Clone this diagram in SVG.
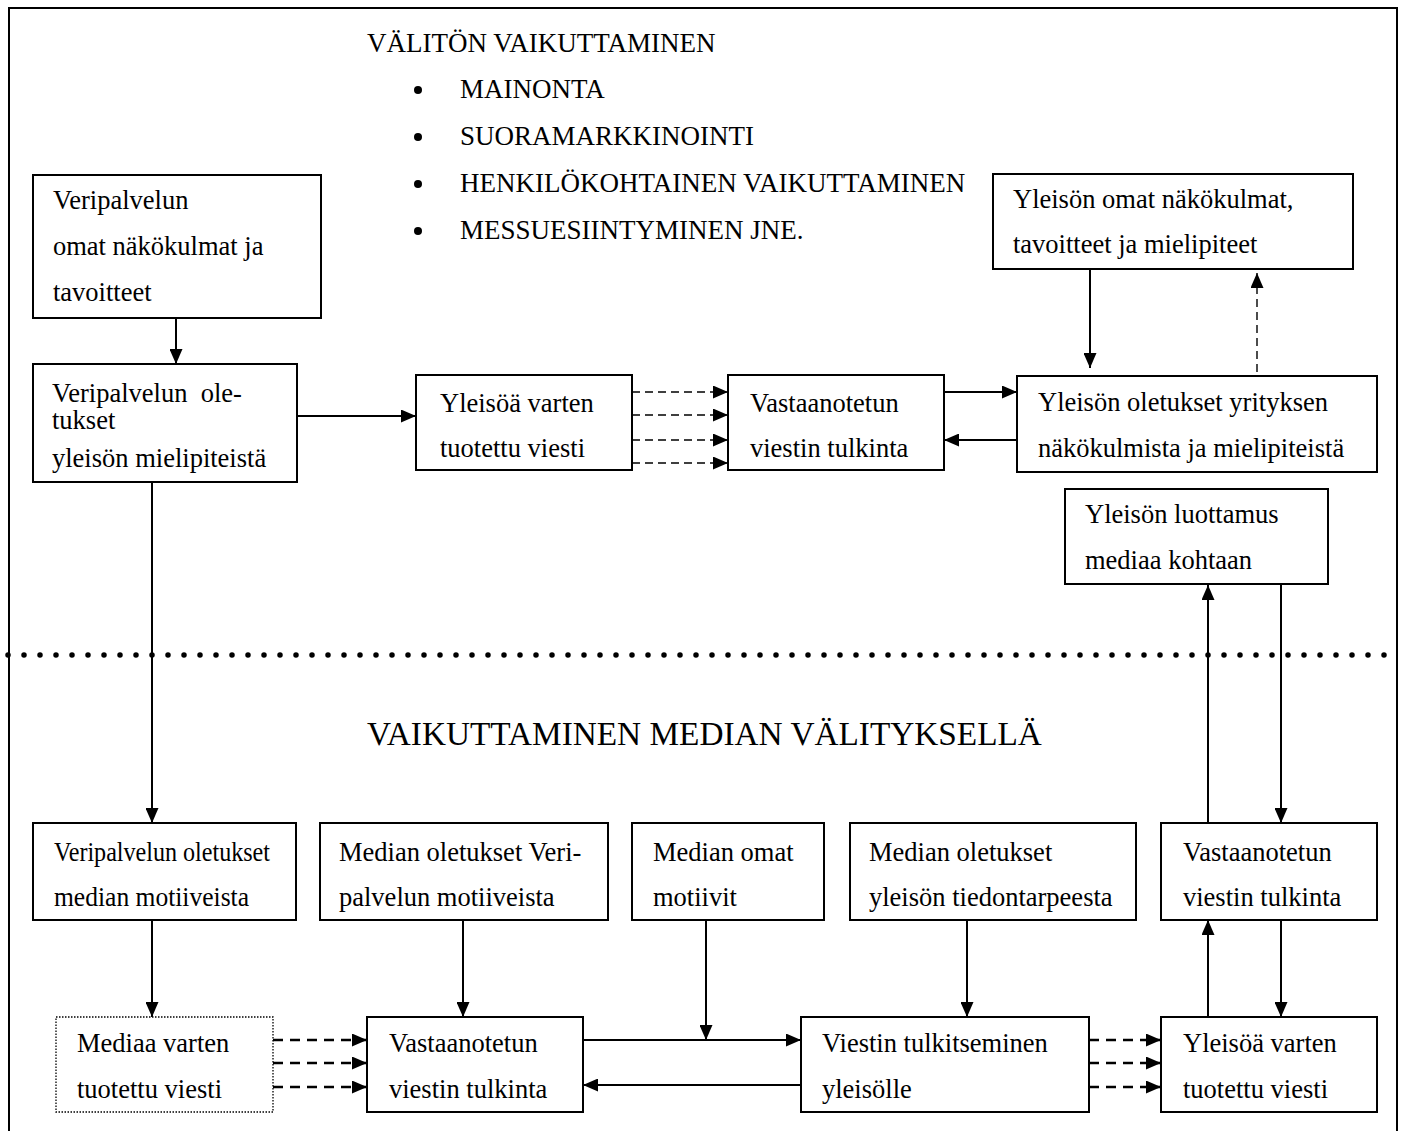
<svg xmlns="http://www.w3.org/2000/svg" width="1405" height="1131" viewBox="0 0 1405 1131">
<style>
  .t { font-family: "Liberation Serif", "Times New Roman", serif; font-size: 26.5px; fill: #000; }
  .th { font-family: "Liberation Serif", "Times New Roman", serif; font-size: 27px; fill: #000; }
  .tb { font-family: "Liberation Serif", "Times New Roman", serif; font-size: 33.3px; fill: #000; }
  .box { fill: #fff; stroke: #000; stroke-width: 2; }
  .dbox { fill: #fff; stroke: #000; stroke-width: 1.3; stroke-dasharray: 1.5 1.5; }
  .ln { fill: none; stroke: #000; stroke-width: 2; }
  .dl { fill: none; stroke: #000; stroke-width: 1.4; stroke-dasharray: 8 5; }
  .dl2 { fill: none; stroke: #000; stroke-width: 2.6; stroke-dasharray: 10 7; }
</style>
<defs>
  <marker id="ah" markerWidth="15" markerHeight="13" refX="15" refY="6.5" orient="auto" markerUnits="userSpaceOnUse">
    <path d="M0,0 L15,6.5 L0,13 Z" fill="#000"/>
  </marker>
</defs>
<rect width="1405" height="1131" fill="#fff"/>
<!-- outer frame -->
<path d="M9,1131 L9,8 L1397,8 L1397,1131" class="ln"/>

<!-- header texts -->
<g id="header">
  <text class="th" x="367" y="52">VÄLITÖN VAIKUTTAMINEN</text>
  <circle cx="418" cy="90" r="4"/>
  <text class="th" x="460" y="98">MAINONTA</text>
  <circle cx="418" cy="137" r="4"/>
  <text class="th" x="460" y="145">SUORAMARKKINOINTI</text>
  <circle cx="418" cy="184" r="4"/>
  <text class="th" x="460" y="192">HENKILÖKOHTAINEN VAIKUTTAMINEN</text>
  <circle cx="418" cy="231" r="4"/>
  <text class="th" x="460" y="239">MESSUESIINTYMINEN JNE.</text>
</g>

<!-- separator -->
<line x1="8" y1="655" x2="1392" y2="655" stroke="#000" stroke-width="5.5" stroke-linecap="round" stroke-dasharray="0 16"/>
<text id="title2" class="tb" x="367" y="745">VAIKUTTAMINEN MEDIAN VÄLITYKSELLÄ</text>

<!-- connectors -->
<g id="connectors">
  <line class="ln" x1="176" y1="318" x2="176" y2="364" marker-end="url(#ah)"/>
  <line class="ln" x1="297" y1="416" x2="416" y2="416" marker-end="url(#ah)"/>
  <line class="dl" x1="632" y1="392" x2="728" y2="392" marker-end="url(#ah)"/>
  <line class="dl" x1="632" y1="415" x2="728" y2="415" marker-end="url(#ah)"/>
  <line class="dl" x1="632" y1="440" x2="728" y2="440" marker-end="url(#ah)"/>
  <line class="dl" x1="632" y1="463" x2="728" y2="463" marker-end="url(#ah)"/>
  <line class="ln" x1="944" y1="392" x2="1017" y2="392" marker-end="url(#ah)"/>
  <line class="ln" x1="1017" y1="440" x2="944" y2="440" marker-end="url(#ah)"/>
  <line class="ln" x1="1090" y1="269" x2="1090" y2="368" marker-end="url(#ah)"/>
  <line class="dl" x1="1257" y1="372" x2="1257" y2="273" marker-end="url(#ah)"/>
  <line class="ln" x1="1208" y1="823" x2="1208" y2="585" marker-end="url(#ah)"/>
  <line class="ln" x1="1281" y1="584" x2="1281" y2="823" marker-end="url(#ah)"/>
  <line class="ln" x1="152" y1="482" x2="152" y2="823" marker-end="url(#ah)"/>
  <line class="ln" x1="152" y1="920" x2="152" y2="1017" marker-end="url(#ah)"/>
  <line class="ln" x1="463" y1="920" x2="463" y2="1017" marker-end="url(#ah)"/>
  <line class="ln" x1="706" y1="920" x2="706" y2="1040" marker-end="url(#ah)"/>
  <line class="ln" x1="967" y1="920" x2="967" y2="1017" marker-end="url(#ah)"/>
  <line class="ln" x1="583" y1="1040" x2="801" y2="1040" marker-end="url(#ah)"/>
  <line class="ln" x1="801" y1="1085" x2="583" y2="1085" marker-end="url(#ah)"/>
  <line class="dl2" x1="273" y1="1040" x2="367" y2="1040" marker-end="url(#ah)"/>
  <line class="dl2" x1="273" y1="1063" x2="367" y2="1063" marker-end="url(#ah)"/>
  <line class="dl2" x1="273" y1="1087" x2="367" y2="1087" marker-end="url(#ah)"/>
  <line class="dl2" x1="1089" y1="1040" x2="1161" y2="1040" marker-end="url(#ah)"/>
  <line class="dl2" x1="1089" y1="1063" x2="1161" y2="1063" marker-end="url(#ah)"/>
  <line class="dl2" x1="1089" y1="1087" x2="1161" y2="1087" marker-end="url(#ah)"/>
  <line class="ln" x1="1208" y1="1017" x2="1208" y2="920" marker-end="url(#ah)"/>
  <line class="ln" x1="1281" y1="920" x2="1281" y2="1017" marker-end="url(#ah)"/>
</g>

<!-- nodes -->
<g id="n-veri-omat">
  <rect class="box" x="33" y="175" width="288" height="143"/>
  <text class="t" x="53" y="209">Veripalvelun</text>
  <text class="t" x="53" y="255">omat näkökulmat ja</text>
  <text class="t" x="53" y="301">tavoitteet</text>
</g>
<g id="n-veri-oletukset">
  <rect class="box" x="33" y="364" width="264" height="118"/>
  <text class="t" x="52" y="402" xml:space="preserve">Veripalvelun  ole-</text>
  <text class="t" x="52" y="429">tukset</text>
  <text class="t" x="52" y="467">yleisön mielipiteistä</text>
</g>
<g id="n-yleisoa-top">
  <rect class="box" x="416" y="375" width="216" height="95"/>
  <text class="t" x="440" y="412">Yleisöä varten</text>
  <text class="t" x="440" y="457">tuotettu viesti</text>
</g>
<g id="n-vast-top">
  <rect class="box" x="728" y="375" width="216" height="95"/>
  <text class="t" x="750" y="412">Vastaanotetun</text>
  <text class="t" x="750" y="457">viestin tulkinta</text>
</g>
<g id="n-yleison-oletukset">
  <rect class="box" x="1017" y="376" width="360" height="96"/>
  <text class="t" x="1038" y="411">Yleisön oletukset yrityksen</text>
  <text class="t" x="1038" y="457">näkökulmista ja mielipiteistä</text>
</g>
<g id="n-yleison-omat">
  <rect class="box" x="993" y="174" width="360" height="95"/>
  <text class="t" x="1013" y="208">Yleisön omat näkökulmat,</text>
  <text class="t" x="1013" y="253">tavoitteet ja mielipiteet</text>
</g>
<g id="n-luottamus">
  <rect class="box" x="1065" y="489" width="263" height="95"/>
  <text class="t" x="1085" y="523">Yleisön luottamus</text>
  <text class="t" x="1085" y="569">mediaa kohtaan</text>
</g>
<g id="n-veri-median">
  <rect class="box" x="33" y="823" width="263" height="97"/>
  <text class="t" x="54" y="861" textLength="216" lengthAdjust="spacingAndGlyphs">Veripalvelun oletukset</text>
  <text class="t" x="54" y="906" textLength="195" lengthAdjust="spacingAndGlyphs">median motiiveista</text>
</g>
<g id="n-median-oletukset-veri">
  <rect class="box" x="320" y="823" width="288" height="97"/>
  <text class="t" x="339" y="861">Median oletukset Veri-</text>
  <text class="t" x="339" y="906">palvelun motiiveista</text>
</g>
<g id="n-median-omat">
  <rect class="box" x="632" y="823" width="192" height="97"/>
  <text class="t" x="653" y="861">Median omat</text>
  <text class="t" x="653" y="906">motiivit</text>
</g>
<g id="n-median-oletukset-yleiso">
  <rect class="box" x="850" y="823" width="286" height="97"/>
  <text class="t" x="869" y="861">Median oletukset</text>
  <text class="t" x="869" y="906">yleisön tiedontarpeesta</text>
</g>
<g id="n-vast-mid">
  <rect class="box" x="1161" y="823" width="216" height="97"/>
  <text class="t" x="1183" y="861">Vastaanotetun</text>
  <text class="t" x="1183" y="906">viestin tulkinta</text>
</g>
<g id="n-mediaa">
  <rect class="dbox" x="56" y="1017" width="217" height="95"/>
  <text class="t" x="77" y="1052">Mediaa varten</text>
  <text class="t" x="77" y="1098">tuotettu viesti</text>
</g>
<g id="n-vast-bottom">
  <rect class="box" x="367" y="1017" width="216" height="95"/>
  <text class="t" x="389" y="1052">Vastaanotetun</text>
  <text class="t" x="389" y="1098">viestin tulkinta</text>
</g>
<g id="n-tulkitseminen">
  <rect class="box" x="801" y="1017" width="288" height="95"/>
  <text class="t" x="822" y="1052">Viestin tulkitseminen</text>
  <text class="t" x="822" y="1098">yleisölle</text>
</g>
<g id="n-yleisoa-bottom">
  <rect class="box" x="1161" y="1017" width="216" height="95"/>
  <text class="t" x="1183" y="1052">Yleisöä varten</text>
  <text class="t" x="1183" y="1098">tuotettu viesti</text>
</g>
</svg>
